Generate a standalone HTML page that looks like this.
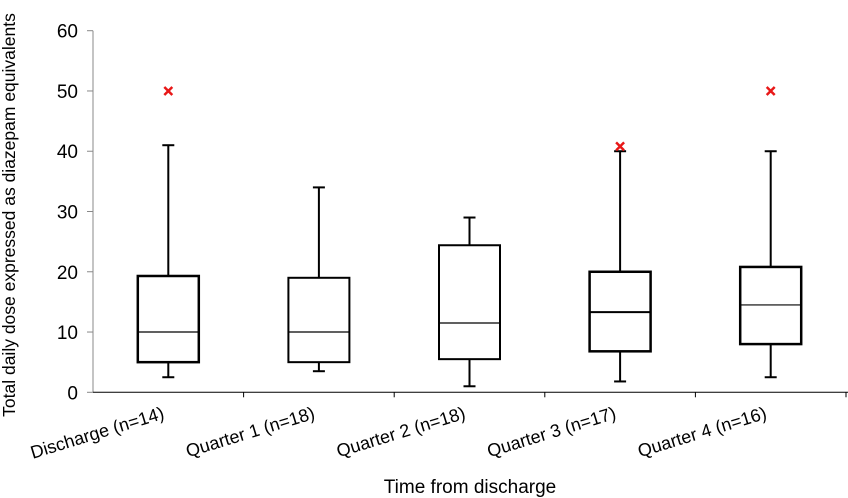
<!DOCTYPE html>
<html><head><meta charset="utf-8"><style>
body{margin:0;background:#fff}
svg{display:block;font-family:"Liberation Sans",Arial,sans-serif}
</style></head><body>
<svg id="c" width="848" height="498"></svg>
<script>
const categories=["Discharge (n=14)","Quarter 1 (n=18)","Quarter 2 (n=18)","Quarter 3 (n=17)","Quarter 4 (n=16)"];
const mins=[2.5,3.5,1,1.8,2.5];
const q1s=[5,5,5.5,6.8,8];
const medians=[10,10,11.5,13.3,14.5];
const q3s=[19.3,19,24.4,20,20.8];
const maxs=[41,34,29,40,40];
const outliers=[[0,50],[3,40.8],[4,50]];
const yTicks=[0,10,20,30,40,50,60];
const NS="http://www.w3.org/2000/svg";
const svg=document.getElementById('c');
const x0=93,cw=150.6,y0=392.3,y60=30.7;
const Y=v=>y0-(v/60)*(y0-y60);
const X=i=>x0+cw*(i+0.5);
function el(t,a,txt){const e=document.createElementNS(NS,t);for(const k in a)e.setAttribute(k,a[k]);if(txt!=null)e.textContent=txt;svg.appendChild(e);return e;}
let e;
e=el('line',{x1:x0,y1:y60,x2:x0,y2:y0,stroke:'#888','stroke-width':1});


e=el('line',{x1:x0,y1:y0,x2:848,y2:y0,stroke:'#000','stroke-width':1});


yTicks.forEach(v=>{
 el('line',{x1:x0-6,y1:Y(v),x2:x0,y2:Y(v),stroke:'#888'});
 e=el('text',{x:78,y:Y(v)+7,'text-anchor':'end','font-size':19,fill:'#000'},v);
 
 
});
categories.forEach((c,i)=>{
 el('line',{x1:x0+cw*(i+1),y1:y0,x2:x0+cw*(i+1),y2:y0+5,stroke:'#000'});
 const cx=X(i),w=61,bw=(i===1||i===2)?2:2.5;
 e=el('line',{x1:cx,y1:Y(mins[i]),x2:cx,y2:Y(q1s[i]),stroke:'#000','stroke-width':2});
 
 
 e=el('line',{x1:cx,y1:Y(q3s[i]),x2:cx,y2:Y(maxs[i]),stroke:'#000','stroke-width':2});
 
 
 el('line',{x1:cx-6,y1:Y(mins[i]),x2:cx+6,y2:Y(mins[i]),stroke:'#000','stroke-width':2});
 el('line',{x1:cx-6,y1:Y(maxs[i]),x2:cx+6,y2:Y(maxs[i]),stroke:'#000','stroke-width':2});
 e=el('rect',{x:cx-w/2,y:Y(q3s[i]),width:w,height:Y(q1s[i])-Y(q3s[i]),fill:'#fff',stroke:'#000','stroke-width':bw});
 
 
 e=el('line',{x1:cx-w/2,y1:Y(medians[i]),x2:cx+w/2,y2:Y(medians[i]),stroke:'#000','stroke-width':(i===3)?2:1.2});
 
 
 e=el('text',{x:0,y:0,'font-size':18,'text-anchor':'end',transform:`translate(${cx-3},${y0+26}) rotate(-17)`},c);
 
 
});
outliers.forEach(o=>{
 const cx=X(o[0]),cy=Y(o[1]);
 e=el('path',{d:`M${cx-4},${cy-4}L${cx+4},${cy+4}M${cx+4},${cy-4}L${cx-4},${cy+4}`,stroke:'#e81818','stroke-width':2.5});
 
 
});
e=el('text',{x:470,y:493,'text-anchor':'middle','font-size':19},'Time from discharge');


e=el('text',{x:0,y:0,'text-anchor':'middle','font-size':17.5,transform:'translate(15,215) rotate(-90)'},'Total daily dose expressed as diazepam equivalents');


</script>
</body></html>
